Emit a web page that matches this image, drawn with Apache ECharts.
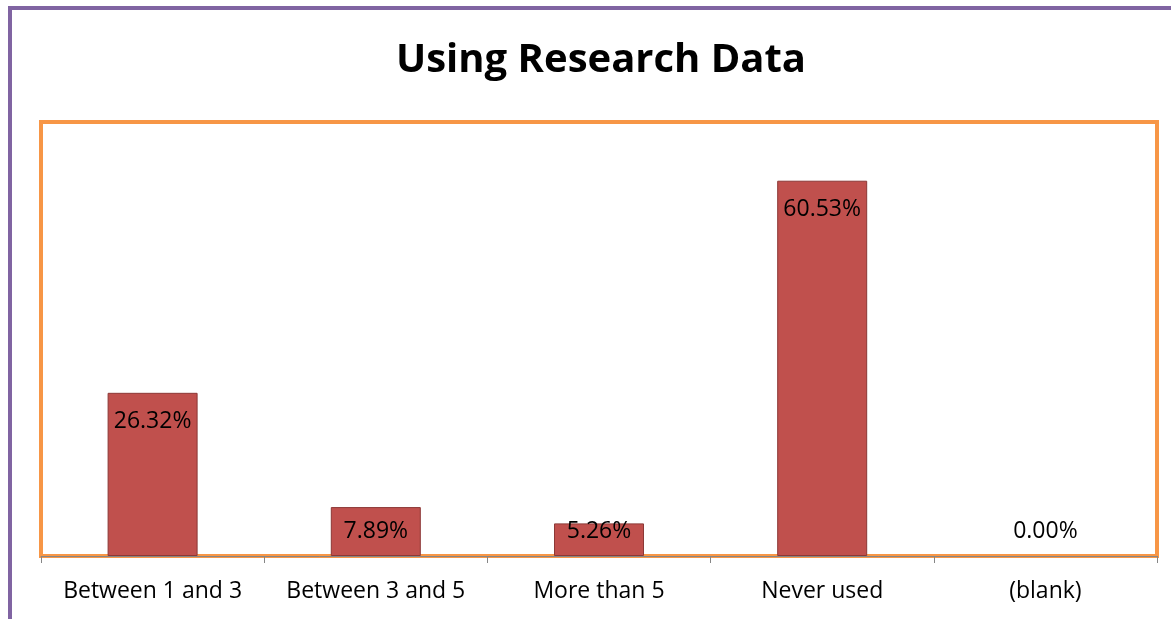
<!DOCTYPE html>
<html>
<head>
<meta charset="utf-8">
<script src="https://cdn.jsdelivr.net/npm/echarts@6/dist/echarts.min.js"></script>
<style>
  html, body { margin: 0; padding: 0; background: #fff; overflow: hidden; }
  #frame {
    position: absolute;
    left: 8px;
    top: 6px;
    width: 1200px;
    height: 700px;
    border-left: 4px solid #8064A2;
    border-top: 4px solid #8064A2;
  }
  #chart { position: absolute; left: 0; top: 0; width: 1171px; height: 619px; }
</style>
</head>
<body>
<div id="frame"></div>
<div id="chart"></div>
<script>
const categories = ['Between 1 and 3', 'Between 3 and 5', 'More than 5', 'Never used', '(blank)']
const values = [26.32, 7.89, 5.26, 60.53, 0.0]

const chart = echarts.init(document.getElementById('chart'))

// short bars: Excel keeps the label at a fixed height above the baseline
const barData = values.map((v) => {
  const item = { value: v }
  if (v < 8.5) item.label = { position: 'insideBottom', distance: 13 }
  if (v === 0) item.itemStyle = { borderWidth: 0 }
  return item
})

chart.setOption({
  animation: false,
  title: {
    text: 'Using Research Data',
    left: 396,
    top: 41,
    padding: 0,
    textStyle: {
      fontFamily: 'Open Sans',
      fontWeight: 'bold',
      fontSize: 40,
      color: '#000'
    }
  },
  grid: {
    left: 41,
    right: 14,
    top: 122,
    bottom: 63,
    show: true,
    borderColor: '#F79646',
    borderWidth: 4,
    backgroundColor: 'transparent'
  },
  xAxis: {
    type: 'category',
    data: categories,
    offset: 2,
    axisLine: { show: true, lineStyle: { color: '#868686', width: 1 } },
    axisTick: { show: true, interval: 0, alignWithLabel: false, length: 7, lineStyle: { color: '#868686', width: 1 } },
    axisLabel: {
      interval: 0,
      color: '#000',
      fontFamily: 'Open Sans',
      fontSize: 23,
      margin: 22
    }
  },
  yAxis: {
    type: 'value',
    min: 0,
    max: 70,
    show: false,
    splitLine: { show: false }
  },
  series: [
    {
      type: 'bar',
      data: barData,
      barWidth: 90,
      itemStyle: {
        color: '#C0504D',
        borderColor: '#8C3836',
        borderWidth: 1
      },
      label: {
        show: true,
        position: 'insideTop',
        distance: 17,
        color: '#000',
        fontFamily: 'Open Sans',
        fontSize: 23,
        formatter: (p) => p.value.toFixed(2) + '%'
      }
    }
  ]
})
</script>
</body>
</html>
